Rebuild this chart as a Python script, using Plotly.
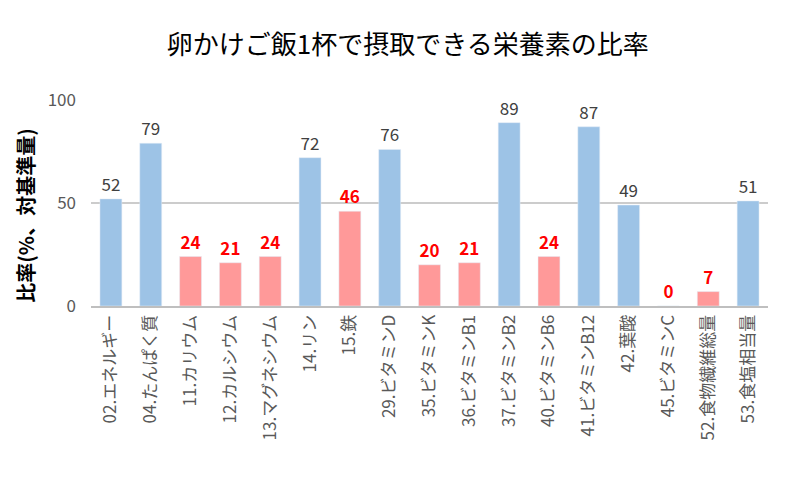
import plotly.graph_objects as go

# data
nutrients = [
    "02.エネルギー", "04.たんぱく質", "11.カリウム", "12.カルシウム",
    "13.マグネシウム", "14.リン", "15.鉄", "29.ビタミンD", "35.ビタミンK",
    "36.ビタミンB1", "37.ビタミンB2", "40.ビタミンB6", "41.ビタミンB12",
    "42.葉酸", "45.ビタミンC", "52.食物繊維総量", "53.食塩相当量",
]
ratios = [52, 79, 24, 21, 24, 72, 46, 76, 20, 21, 89, 24, 87, 49, 0, 7, 51]
low = [False, False, True, True, True, False, True, False, True,
       True, False, True, False, False, True, True, False]

FONT = "Noto Sans CJK JP"

ok_x = [n for n, l in zip(nutrients, low) if not l]
ok_y = [v for v, l in zip(ratios, low) if not l]
low_x = [n for n, l in zip(nutrients, low) if l]
low_y = [v for v, l in zip(ratios, low) if l]

fig = go.Figure()
fig.add_trace(go.Bar(
    x=ok_x, y=ok_y, text=ok_y, textposition="outside",
    marker_color="#9DC3E6", cliponaxis=False,
    textfont=dict(family=FONT, size=17, color="#404040"),
))
fig.add_trace(go.Bar(
    x=low_x, y=low_y, text=low_y, textposition="outside",
    marker_color="#FF9999", cliponaxis=False,
    textfont=dict(family=FONT, size=17, color="#FF0000", weight="bold"),
))

# page has an 8px body margin, so the figure is drawn 8px smaller
fig.update_layout(
    width=787, height=483,
    barmode="overlay", bargap=0.45,
    showlegend=False,
    paper_bgcolor="white", plot_bgcolor="white",
    margin=dict(l=83, r=27, t=92, b=185),
    font=dict(family=FONT, color="#595959"),
    title=dict(
        text="卵かけご飯1杯で摂取できる栄養素の比率",
        x=0.508, xanchor="center", y=0.923, yanchor="middle",
        font=dict(family=FONT, size=26, color="#000000"),
    ),
    hovermode=False,
)

# y axis title as annotation (sits a bit below the plot centre in the original)
fig.add_annotation(
    text="比率(%、対基準量)", textangle=-90, showarrow=False,
    xref="paper", yref="paper", x=-0.097, y=0.44,
    xanchor="center", yanchor="middle",
    font=dict(family=FONT, size=20, color="#000000", weight="bold"),
)

fig.update_xaxes(
    categoryorder="array", categoryarray=nutrients,
    tickangle=-90, tickfont=dict(family=FONT, size=17, color="#595959"),
    showline=True, linecolor="#BFBFBF", linewidth=2, ticks="",
    showgrid=False, automargin=False,
)
fig.update_yaxes(
    range=[0, 100], tickvals=[0, 50, 100],
    tickfont=dict(family=FONT, size=17, color="#595959"),
    showgrid=True, gridcolor="#CCCCCC", gridwidth=2,
    zeroline=False, ticks="", ticklabelstandoff=14, automargin=False,
)

fig.write_html("out.html")
